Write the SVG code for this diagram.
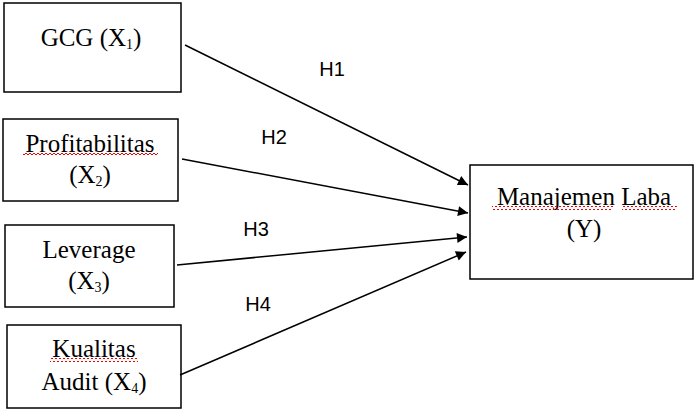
<svg xmlns="http://www.w3.org/2000/svg" width="695" height="410" viewBox="0 0 695 410">
<style>
.box{fill:#fff;stroke:#000;stroke-width:1.5}
.t{font-family:"Liberation Serif","Times New Roman",serif;font-size:25px;fill:#000;text-anchor:middle}
.sub{font-size:14px}
.h{font-family:"Liberation Sans",Arial,sans-serif;font-size:20px;fill:#000;text-anchor:middle}
.conn{stroke:#000;stroke-width:1.5;fill:none;marker-end:url(#ah)}
</style>
<defs>
<marker id="ah" viewBox="0 0 10 10" refX="10" refY="5" markerWidth="11" markerHeight="10" markerUnits="userSpaceOnUse" orient="auto">
<path d="M0,0 L10,5 L0,10 z" fill="#000"/>
</marker>
<pattern id="wv" width="4" height="4" patternUnits="userSpaceOnUse"><path d="M0,3 L2,1 L4,3" stroke="#e00" stroke-width="1" fill="none"/></pattern>
</defs>
<rect width="695" height="410" fill="#fff"/>
<g id="x1">
<rect class="box" x="4" y="3" width="177" height="89"/>
<text class="t" x="91" y="46">GCG (X<tspan class="sub" dy="3">1</tspan><tspan dy="-3">)</tspan></text>
</g>
<g id="x2">
<rect class="box" x="3" y="119" width="175" height="82"/>
<text class="t" x="90" y="152">Profitabilitas</text>
<rect x="23" y="153" width="135" height="4" fill="url(#wv)"/>
<text class="t" x="90" y="183">(X<tspan class="sub" dy="3">2</tspan><tspan dy="-3">)</tspan></text>
</g>
<g id="x3">
<rect class="box" x="5" y="225" width="169" height="82"/>
<text class="t" x="89" y="258">Leverage</text>
<text class="t" x="89" y="289">(X<tspan class="sub" dy="3">3</tspan><tspan dy="-3">)</tspan></text>
</g>
<g id="x4">
<rect class="box" x="7" y="325" width="174" height="83"/>
<text class="t" x="94" y="357">Kualitas</text>
<rect x="50" y="358" width="88" height="4" fill="url(#wv)"/>
<text class="t" x="94" y="390">Audit (X<tspan class="sub" dy="3">4</tspan><tspan dy="-3">)</tspan></text>
</g>
<g id="y">
<rect class="box" x="470" y="165" width="223" height="114"/>
<text class="t" x="584" y="205">Manajemen Laba</text>
<rect x="492" y="206" width="121" height="4" fill="url(#wv)"/>
<rect x="622" y="206" width="55" height="4" fill="url(#wv)"/>
<text class="t" x="584" y="237">(Y)</text>
</g>
<g id="connectors">
<line class="conn" x1="185" y1="45" x2="468" y2="185"/>
<line class="conn" x1="182" y1="159" x2="468" y2="213"/>
<line class="conn" x1="177" y1="265" x2="467" y2="237"/>
<line class="conn" x1="180" y1="375" x2="466" y2="252"/>
<text class="h" x="332" y="76">H1</text>
<text class="h" x="274" y="144">H2</text>
<text class="h" x="256" y="236">H3</text>
<text class="h" x="258" y="311">H4</text>
</g>
</svg>
